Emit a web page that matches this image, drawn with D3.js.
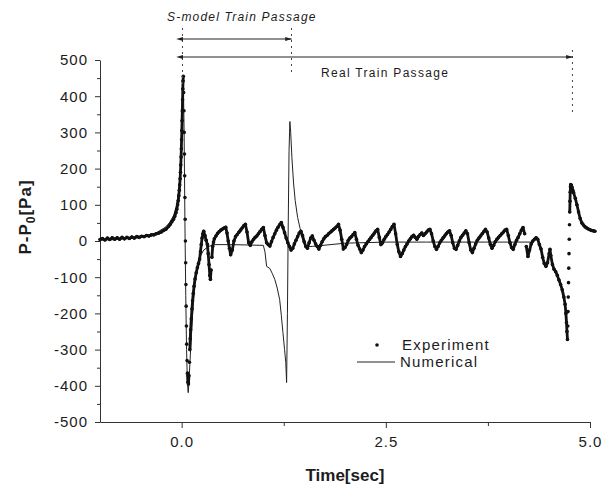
<!DOCTYPE html>
<html><head><meta charset="utf-8">
<script src="https://cdn.jsdelivr.net/npm/d3@7"></script>
<style>body{margin:0;background:#fff}svg{display:block}</style>
</head><body><svg id="c" width="608" height="484"></svg>
<script>
// ---- data ----
const expTime = [
-1.00,-0.97,-0.94,-0.91,-0.88,-0.85,-0.82,-0.79,-0.76,-0.73,-0.70,-0.67,-0.64,-0.61,-0.58,-0.55,-0.52,-0.49,-0.46,-0.43,-0.40,-0.37,-0.34,-0.31,-0.28,-0.25,-0.22,-0.19,-0.16,-0.14,-0.12,-0.10,-0.085,-0.07,-0.06,-0.05,-0.042,-0.035,-0.029,-0.024,-0.019,-0.015,-0.011,-0.007,-0.004,-0.001,0.002,0.005,0.008,0.011,0.014,0.017,0.020,
0.024,0.028,0.031,0.034,0.037,0.040,0.043,0.046,0.049,0.052,0.055,0.058,0.062,0.066,0.071,0.077,0.083,0.089,0.095,0.100,0.105,0.110,0.118,0.126,0.134,0.142,0.152,0.164,0.178,0.192,0.206,0.220,0.230,0.240,0.250,0.260,0.270,0.285,0.300,0.315,0.325,0.335,0.345,0.352,0.360,0.370,0.380,0.390,
0.40,0.42,0.44,0.46,0.48,0.50,0.52,0.54,0.555,0.57,0.585,0.60,0.62,0.64,0.66,0.68,0.70,0.72,0.74,0.76,0.78,0.80,0.82,0.84,0.86,0.88,0.90,0.92,0.94,0.96,0.98,1.00,1.02,1.04,1.06,1.08,1.10,1.12,1.14,1.16,1.18,1.20,1.22,1.24,1.26,1.28,1.30,1.32,1.34,1.36,1.38,1.40,1.42,1.44,1.46,1.48,1.50,1.52,1.54,1.56,1.58,1.60,1.62,1.64,1.66,1.68,1.70,1.72,1.74,1.76,1.78,1.80,1.82,1.84,1.86,1.88,1.90,1.92,1.94,1.96,1.98,
2.00,2.02,2.04,2.06,2.08,2.10,2.12,2.14,2.16,2.18,2.20,2.22,2.24,2.26,2.28,2.30,2.32,2.34,2.36,2.38,2.40,2.42,2.44,2.46,2.48,2.50,2.52,2.54,2.56,2.58,2.60,2.62,2.64,2.66,2.68,2.70,2.72,2.74,2.76,2.78,2.80,2.82,2.84,2.86,2.88,2.90,2.92,2.94,2.96,2.98,
3.00,3.02,3.04,3.06,3.08,3.10,3.12,3.14,3.16,3.18,3.20,3.22,3.24,3.26,3.28,3.30,3.32,3.34,3.36,3.38,3.40,3.42,3.44,3.46,3.48,3.50,3.52,3.54,3.56,3.58,3.60,3.62,3.64,3.66,3.68,3.70,3.72,3.74,3.76,3.78,3.80,3.82,3.84,3.86,3.88,3.90,3.92,3.94,3.96,3.98,
4.00,4.02,4.04,4.06,4.08,4.10,4.12,4.14,4.16,4.18,4.20,4.22,4.24,4.26,4.28,4.30,4.32,4.34,4.36,4.38,4.40,4.42,4.44,4.46,4.48,4.50,4.51,4.52,4.54,4.56,4.58,4.60,4.62,4.64,4.66,4.68,4.695,4.705,4.712,4.718,4.724,
4.728,4.731,4.734,4.737,4.740,4.743,4.746,4.749,4.752,4.755,4.758,4.761,4.765,4.770,4.78,4.79,4.80,4.82,4.84,4.86,4.88,4.90,4.92,4.94,4.96,4.98,5.00,5.02,5.04,5.06
];
const expPressure = [
4,7,3,8,4,9,5,9,5,10,6,10,7,11,8,12,10,13,12,15,14,17,17,20,22,25,29,33,40,46,53,60,68,78,88,100,112,125,140,155,172,190,210,232,255,280,305,332,360,390,420,442,455,
410,360,300,240,180,120,60,0,-60,-120,-180,-235,-285,-330,-365,-390,-395,-372,-335,-300,-270,-245,-215,-188,-165,-145,-125,-105,-88,-74,-62,-50,-30,-10,8,20,27,15,2,-10,-35,-65,-95,-106,-80,-45,-15,-3,
6,14,21,26,30,33,36,38,22,0,-20,-38,-25,0,12,18,24,30,36,42,46,25,-5,-12,-2,5,10,14,20,26,32,37,15,-5,-10,-14,-2,10,20,30,38,45,51,38,23,8,-5,-15,-25,-20,-8,2,12,22,27,15,-2,-15,-20,-5,8,14,2,-8,-15,-22,-12,-2,6,12,15,20,24,28,32,36,40,46,30,5,-22,
-18,-10,2,8,12,18,23,5,-12,-22,-32,-25,-15,-8,-2,4,10,16,22,28,32,10,-10,-5,5,12,18,25,32,40,46,20,-10,-30,-43,-35,-25,-15,-8,0,6,12,16,10,5,12,18,22,15,20,
25,30,32,20,0,-15,-23,-15,-5,2,8,14,20,25,28,15,-5,-20,-23,-12,0,10,16,22,28,20,-5,-25,-32,-20,-8,2,8,14,20,26,32,25,8,-10,-20,-12,-2,5,10,15,20,25,30,32,
15,-5,-18,-23,-10,2,10,20,30,37,20,-15,-43,-25,-8,0,5,9,5,-10,-22,-45,-62,-70,-60,-35,-23,-40,-65,-78,-85,-95,-108,-120,-135,-155,-175,-200,-225,-250,-272,
-235,-195,-155,-115,-75,-35,5,45,80,110,135,150,156,154,148,140,133,118,100,80,62,50,44,39,36,33,31,29,28,27
];
const numTime = [-1.00,-0.80,-0.60,-0.50,-0.40,-0.30,-0.20,-0.15,-0.10,-0.07,-0.05,-0.03,-0.02,-0.01,0.00,0.01,0.018,0.022,0.03,0.04,0.05,0.06,0.07,0.08,0.09,0.10,0.12,0.14,0.16,0.19,0.22,0.27,0.33,0.40,0.60,0.80,1.00,1.02,1.04,1.08,1.11,1.14,1.17,1.20,1.22,1.24,1.26,1.275,1.285,1.295,1.305,1.315,1.325,1.335,1.35,1.37,1.39,1.42,1.45,1.48,1.52,1.60,2.00,2.50,3.00,3.50,4.00,4.30];
const numPressure = [2,4,8,11,16,24,38,50,70,92,115,150,180,225,290,370,430,420,300,50,-150,-300,-390,-419,-390,-340,-260,-180,-120,-75,-45,-25,-15,-10,-10,-11,-12,-30,-70,-76,-90,-106,-130,-162,-205,-253,-300,-336,-391,-200,50,250,330,300,230,160,112,65,35,5,-15,-15,-6,-3,-3,-3,-3,-3];
const xMajorTicks = [0, 2.5, 5];
const xTickLabels = ["0.0", "2.5", "5.0"];
const xMinorTicks = [1.25, 3.75];
const yMajorTicks = [-500,-400,-300,-200,-100,0,100,200,300,400,500];
const yMinorTicks = [-450,-350,-250,-150,-50,50,150,250,350,450];
const modelPassage = [0.01, 1.345];
const realPassage = [0.01, 4.785];
const seriesNames = ["Experiment", "Numerical"];

// ---- drawing ----
const svg = d3.select("#c");
const FONT = "'Liberation Sans', Arial, sans-serif";
const ink = "#1c1c1c";
const x = d3.scaleLinear().domain([-1, 5]).range([100, 590]);
const y = d3.scaleLinear().domain([-500, 500]).range([422, 60]);

// axes
const gx = svg.append("g").attr("transform", "translate(0,422)");
gx.call(d3.axisBottom(x).tickValues(xMajorTicks).tickFormat((d,i)=>xTickLabels[i]).tickSize(6).tickPadding(8).tickSizeOuter(0));
const gxm = svg.append("g").attr("transform", "translate(0,422)");
gxm.call(d3.axisBottom(x).tickValues(xMinorTicks).tickFormat("").tickSize(4).tickSizeOuter(0));
gxm.select(".domain").remove();
const gy = svg.append("g").attr("transform", "translate(100,0)");
gy.call(d3.axisLeft(y).tickValues(yMajorTicks).tickFormat(d => String(d)).tickSize(5).tickPadding(7).tickSizeOuter(0));
const gym = svg.append("g").attr("transform", "translate(100,0)");
gym.call(d3.axisLeft(y).tickValues(yMinorTicks).tickFormat("").tickSize(3).tickSizeOuter(0));
gym.select(".domain").remove();
svg.selectAll(".domain, .tick line").attr("stroke", "#333").attr("stroke-width", 1);
svg.selectAll(".tick text").attr("font-family", FONT).attr("font-size", 15).attr("fill", ink).attr("letter-spacing", "1px");

// axis titles
svg.append("text").attr("x", 345).attr("y", 481).attr("text-anchor", "middle")
  .attr("font-family", FONT).attr("font-weight", "bold").attr("font-size", 17).attr("fill", ink)
  .text("Time[sec]");
const yl = svg.append("text").attr("transform", "translate(31,217) rotate(-90)").attr("text-anchor", "middle")
  .attr("font-family", FONT).attr("font-weight", "bold").attr("font-size", 17).attr("fill", ink).attr("letter-spacing", "1px");
yl.append("tspan").text("P-P");
yl.append("tspan").attr("font-size", 12).attr("dy", 4).text("0");
yl.append("tspan").attr("dy", -4).text("[Pa]");

// numerical line
const num = numTime.map((t,i)=>[t, numPressure[i]]);
svg.append("path").datum(num)
  .attr("d", d3.line().x(d=>x(d[0])).y(d=>y(d[1])))
  .attr("fill", "none").attr("stroke", "#222").attr("stroke-width", 1);

// experiment dots
const exp = expTime.map((t,i)=>[t, expPressure[i]]);
const segs = [];
for (let i = 1; i < exp.length; i++) {
  const dx = x(exp[i][0]) - x(exp[i-1][0]), dy = y(exp[i][1]) - y(exp[i-1][1]);
  if (Math.hypot(dx, dy) < 12) segs.push([exp[i-1], exp[i]]);
}
svg.append("g").selectAll("line").data(segs).join("line")
  .attr("x1", d=>x(d[0][0])).attr("y1", d=>y(d[0][1]))
  .attr("x2", d=>x(d[1][0])).attr("y2", d=>y(d[1][1]))
  .attr("stroke", "#111").attr("stroke-width", 2.8).attr("stroke-linecap", "round");
svg.append("g").selectAll("circle").data(exp).join("circle")
  .attr("cx", d=>x(d[0])).attr("cy", d=>y(d[1])).attr("r", 1.8).attr("fill", "#111");

// passage annotations
const defs = svg.append("defs");
["s","e"].forEach(k=>{
  defs.append("marker").attr("id","arr"+k).attr("viewBox","0 0 10 10").attr("refX", k==="e"?9:1).attr("refY",5)
    .attr("markerWidth",7).attr("markerHeight",7).attr("orient", k==="e"?"auto":"auto-start-reverse")
    .append("path").attr("d","M0,2 L10,5 L0,8 Z").attr("fill","#222");
});
function vdotted(t, y1, y2) {
  svg.append("line").attr("x1", x(t)).attr("x2", x(t)).attr("y1", y1).attr("y2", y2)
    .attr("stroke", "#444").attr("stroke-width", 1).attr("stroke-dasharray", "2,4");
}
vdotted(modelPassage[0], 28, 84);
vdotted(modelPassage[1], 28, 72);
vdotted(realPassage[1], 50, 112);
svg.append("line").attr("x1", x(modelPassage[0])).attr("x2", x(modelPassage[1])).attr("y1", 39).attr("y2", 39)
  .attr("stroke", "#222").attr("stroke-width", 1).attr("marker-start", "url(#arrs)").attr("marker-end", "url(#arre)");
svg.append("line").attr("x1", x(realPassage[0])).attr("x2", x(realPassage[1])).attr("y1", 57).attr("y2", 57)
  .attr("stroke", "#222").attr("stroke-width", 1).attr("marker-start", "url(#arrs)").attr("marker-end", "url(#arre)");
svg.append("text").attr("x", 167).attr("y", 21).attr("font-family", FONT).attr("font-style", "italic")
  .attr("font-size", 12).attr("letter-spacing", "1.2px").attr("fill", ink).text("S-model Train Passage");
svg.append("text").attr("x", 321).attr("y", 77).attr("font-family", FONT)
  .attr("font-size", 12).attr("letter-spacing", "1.3px").attr("fill", ink).text("Real Train Passage");

// legend
svg.append("circle").attr("cx", 377).attr("cy", 345).attr("r", 1.8).attr("fill", "#111");
svg.append("text").attr("x", 402).attr("y", 350).attr("font-family", FONT).attr("font-size", 15)
  .attr("letter-spacing", "1.2px").attr("fill", ink).text(seriesNames[0]);
svg.append("line").attr("x1", 357).attr("x2", 395).attr("y1", 362).attr("y2", 362).attr("stroke", "#222").attr("stroke-width", 1);
svg.append("text").attr("x", 400).attr("y", 367).attr("font-family", FONT).attr("font-size", 15)
  .attr("letter-spacing", "1.2px").attr("fill", ink).text(seriesNames[1]);
</script>
</body></html>
